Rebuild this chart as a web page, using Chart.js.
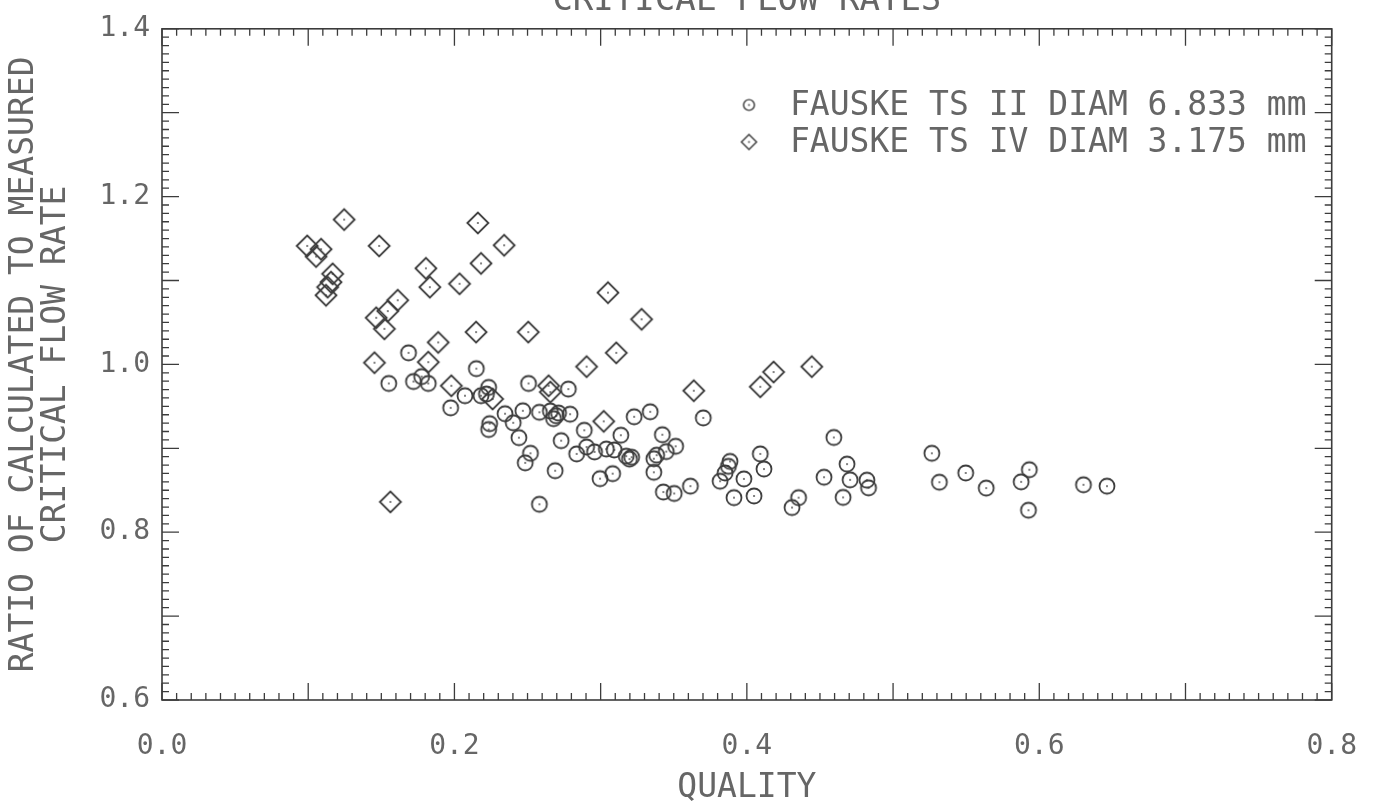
<!DOCTYPE html>
<html>
<head>
<meta charset="utf-8">
<script src="https://cdn.jsdelivr.net/npm/chart.js@4.4.1/dist/chart.umd.min.js"></script>
<style>
  html, body { margin: 0; padding: 0; background: #ffffff; }
  #wrap { width: 1387px; height: 802px; }
</style>
</head>
<body>
<div id="wrap"><canvas id="c" width="1387" height="802"></canvas></div>
<script>
// ---------------- DATA ----------------
const chartTitle = 'CRITICAL FLOW RATES';
const xTitle = 'QUALITY';
const yTitleLines = ['RATIO OF CALCULATED TO MEASURED', 'CRITICAL FLOW RATE'];

const seriesLabels = ['FAUSKE TS II DIAM 6.833 mm', 'FAUSKE TS IV DIAM 3.175 mm'];

// FAUSKE TS II (circles)
const ts2Quality = [
  0.1686, 0.2150, 0.1551, 0.1720, 0.1776, 0.1821, 0.2507, 0.2072, 0.2182, 0.2234,
  0.2219, 0.1974, 0.2346, 0.2468, 0.2402, 0.2241, 0.2234, 0.2441, 0.2520, 0.2484,
  0.2689, 0.2581, 0.2581, 0.2730, 0.2656, 0.2678, 0.2712, 0.2791, 0.2779, 0.2888,
  0.2836, 0.2904, 0.2958, 0.3039, 0.3093, 0.3138, 0.3229, 0.3339, 0.2996, 0.3082,
  0.3175, 0.3197, 0.3212, 0.3422, 0.3364, 0.3383, 0.3364, 0.3449, 0.3513, 0.3702,
  0.3429, 0.3503, 0.3614, 0.3817, 0.3851, 0.3874, 0.3885, 0.3980, 0.3912, 0.4049,
  0.4092, 0.4117, 0.4354, 0.4309, 0.4528, 0.4595, 0.4685, 0.4706, 0.4658, 0.4821,
  0.4832, 0.5265, 0.5317, 0.5497, 0.5637, 0.5932, 0.5876, 0.5926, 0.6302, 0.6463,
  0.2696
];
const ts2Ratio = [
  1.0138, 0.9949, 0.9773, 0.9796, 0.9855, 0.9773, 0.9773, 0.9627, 0.9627, 0.9726,
  0.9647, 0.9482, 0.9412, 0.9447, 0.9304, 0.9294, 0.9224, 0.9127, 0.8941, 0.8827,
  0.8733, 0.8333, 0.9429, 0.9091, 0.9444, 0.9353, 0.9420, 0.9406, 0.9706, 0.9215,
  0.8933, 0.9015, 0.8957, 0.8991, 0.8980, 0.9156, 0.9376, 0.9435, 0.8638, 0.8698,
  0.8906, 0.8871, 0.8894, 0.9162, 0.8876, 0.8918, 0.8714, 0.8961, 0.9024, 0.9362,
  0.8479, 0.8462, 0.8549, 0.8608, 0.8706, 0.8785, 0.8844, 0.8635, 0.8412, 0.8432,
  0.8933, 0.8753, 0.8412, 0.8294, 0.8655, 0.9129, 0.8812, 0.8624, 0.8415, 0.8620,
  0.8529, 0.8941, 0.8596, 0.8706, 0.8526, 0.8745, 0.8600, 0.8262, 0.8565, 0.8549,
  0.9388
];

// FAUSKE TS IV (diamonds)
const ts4Quality = [
  0.1246, 0.0993, 0.1088, 0.1054, 0.1167, 0.1156, 0.1133, 0.1122, 0.1485, 0.2160,
  0.2340, 0.2182, 0.1805, 0.1832, 0.2035, 0.1612, 0.1544, 0.1465, 0.1521, 0.2148,
  0.2505, 0.1889, 0.1453, 0.1821, 0.1979, 0.2261, 0.1562, 0.2644, 0.2656, 0.3050,
  0.3280, 0.3107, 0.2904, 0.3637, 0.4092, 0.4183, 0.4444, 0.3021
];
const ts4Ratio = [
  1.1726, 1.1412, 1.1373, 1.1286, 1.1079, 1.0980, 1.0921, 1.0824, 1.1412, 1.1686,
  1.1420, 1.1204, 1.1145, 1.0921, 1.0961, 1.0765, 1.0635, 1.0556, 1.0424, 1.0385,
  1.0385, 1.0262, 1.0020, 1.0027, 0.9745, 0.9588, 0.8361, 0.9745, 0.9670, 1.0855,
  1.0538, 1.0138, 0.9973, 0.9686, 0.9733, 0.9909, 0.9973, 0.9321
];

const xMin = 0.0, xMax = 0.8, xStep = 0.2;
const yMin = 0.6, yMax = 1.4, yStep = 0.2;

// ---------------- STYLE ----------------
const FONT = '"DejaVu Sans Mono", "Liberation Mono", monospace';
const INK = '#3c3c3c';
const TEXT = '#666666';

function markerCanvas(kind, scale) {
  const s = Math.ceil(28 * scale);
  const c = document.createElement('canvas');
  c.width = s; c.height = s;
  const g = c.getContext('2d');
  g.strokeStyle = INK;
  g.lineWidth = 1.8 * Math.max(scale, 0.8);
  g.beginPath();
  if (kind === 'circle') {
    g.arc(s / 2, s / 2, 7.5 * scale, 0, Math.PI * 2);
  } else {
    const r = 10.5 * scale;
    g.moveTo(s / 2 - r, s / 2);
    g.lineTo(s / 2, s / 2 - r);
    g.lineTo(s / 2 + r, s / 2);
    g.lineTo(s / 2, s / 2 + r);
    g.closePath();
  }
  g.stroke();
  g.fillStyle = INK;
  g.fillRect(s / 2 - 0.8, s / 2 - 0.8, 1.6, 1.6);
  return c;
}
const circleImg = markerCanvas('circle', 1);
const diamondImg = markerCanvas('diamond', 1);
const circleLegendImg = markerCanvas('circle', 0.72);
const diamondLegendImg = markerCanvas('diamond', 0.72);

const toPoints = (xs, ys) => xs.map((x, i) => ({ x: x, y: ys[i] }));

// Frame with inward ticks on all four sides
const framePlugin = {
  id: 'frame',
  afterDatasetsDraw(chart) {
    const { ctx, chartArea: a, scales: { x, y } } = chart;
    ctx.save();
    ctx.strokeStyle = INK;
    ctx.lineWidth = 1.6;
    ctx.strokeRect(a.left, a.top, a.right - a.left, a.bottom - a.top);
    ctx.lineWidth = 1.3;
    ctx.beginPath();
    const nx = Math.round((xMax - xMin) / 0.01);
    for (let i = 0; i <= nx; i++) {
      const px = x.getPixelForValue(xMin + i * 0.01);
      const len = (i % 10 === 0) ? 17 : 7;
      ctx.moveTo(px, a.bottom); ctx.lineTo(px, a.bottom - len);
      ctx.moveTo(px, a.top); ctx.lineTo(px, a.top + len);
    }
    const ny = Math.round((yMax - yMin) / 0.01);
    for (let i = 0; i <= ny; i++) {
      const py = y.getPixelForValue(yMin + i * 0.01);
      const len = (i % 10 === 0) ? 17 : 7;
      ctx.moveTo(a.left, py); ctx.lineTo(a.left + len, py);
      ctx.moveTo(a.right, py); ctx.lineTo(a.right - len, py);
    }
    ctx.stroke();
    ctx.restore();
  }
};

// Legend inside the plot (top right) and cut-off title at the very top
const annotPlugin = {
  id: 'annot',
  afterDraw(chart) {
    const { ctx, chartArea: a } = chart;
    ctx.save();
    ctx.fillStyle = TEXT;
    ctx.font = '34px ' + FONT;
    ctx.textAlign = 'center';
    ctx.textBaseline = 'alphabetic';
    ctx.fillText(chartTitle, (a.left + a.right) / 2, 10);

    const imgs = [circleLegendImg, diamondLegendImg];
    const rows = [105, 142];
    ctx.font = '33px ' + FONT;
    ctx.textAlign = 'left';
    ctx.textBaseline = 'middle';
    chart.data.datasets.forEach((ds, i) => {
      const im = imgs[i];
      ctx.drawImage(im, 749 - im.width / 2, rows[i] - im.height / 2);
      ctx.fillText(ds.label, 790, rows[i] + 1);
    });
    ctx.restore();
  }
};

new Chart(document.getElementById('c'), {
  type: 'scatter',
  data: {
    datasets: [
      {
        label: seriesLabels[0],
        data: toPoints(ts2Quality, ts2Ratio),
        pointStyle: circleImg,
        pointRadius: 8,
        borderColor: INK,
        backgroundColor: 'rgba(0,0,0,0)'
      },
      {
        label: seriesLabels[1],
        data: toPoints(ts4Quality, ts4Ratio),
        pointStyle: diamondImg,
        pointRadius: 10,
        borderColor: INK,
        backgroundColor: 'rgba(0,0,0,0)'
      }
    ]
  },
  options: {
    responsive: false,
    animation: false,
    devicePixelRatio: 1,
    layout: { padding: { top: 20, right: 42, left: 0, bottom: 0 } },
    plugins: {
      legend: { display: false },
      title: { display: false },
      tooltip: { enabled: false }
    },
    events: [],
    scales: {
      x: {
        type: 'linear',
        position: 'bottom',
        min: xMin, max: xMax,
        grid: { display: false, drawTicks: false },
        border: { display: false },
        ticks: {
          stepSize: xStep,
          padding: 30,
          color: TEXT,
          font: { family: FONT, size: 28 },
          maxRotation: 0,
          callback: v => Number(v).toFixed(1)
        },
        title: {
          display: true,
          text: xTitle,
          color: TEXT,
          font: { family: FONT, size: 33, lineHeight: 0.85 },
          padding: { top: 0, bottom: 0 }
        },
        afterFit(scale) { scale.height = 102; }
      },
      y: {
        type: 'linear',
        position: 'left',
        min: yMin, max: yMax,
        grid: { display: false, drawTicks: false },
        border: { display: false },
        ticks: {
          stepSize: yStep,
          padding: 12,
          color: TEXT,
          font: { family: FONT, size: 28 },
          callback: v => Number(v).toFixed(1)
        },
        title: {
          display: true,
          text: yTitleLines,
          color: TEXT,
          font: { family: FONT, size: 33, lineHeight: 0.985 },
          padding: { top: 8, bottom: 0 }
        },
        afterFit(scale) { scale.width = 162; }
      }
    }
  },
  plugins: [framePlugin, annotPlugin]
});
</script>
</body>
</html>
